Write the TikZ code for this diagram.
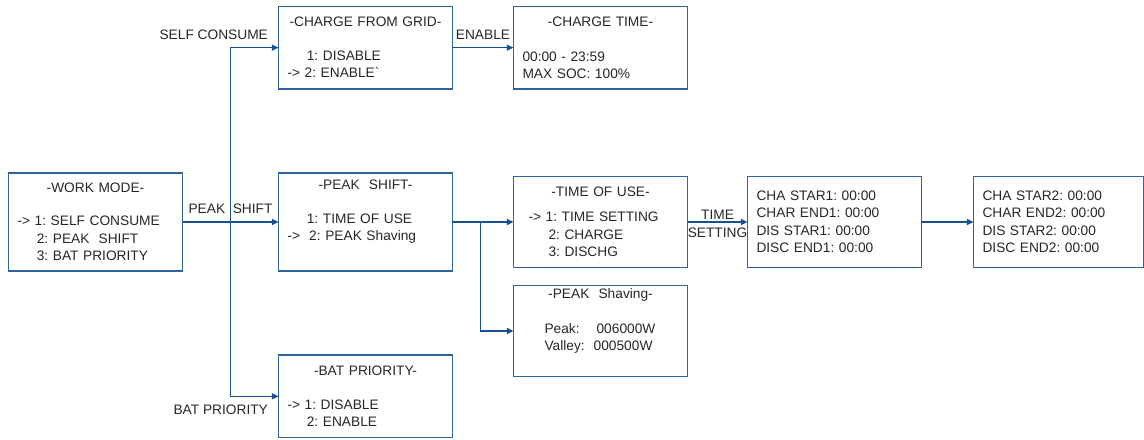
\documentclass[tikz,border=0pt]{standalone}
\usepackage{fontspec}
\setmainfont{Liberation Sans}
\usepackage{xcolor}
\definecolor{boxblue}{RGB}{46,101,160}
\definecolor{lineblue}{RGB}{24,80,150}
\definecolor{txtgray}{RGB}{38,38,38}
\usepackage{tikz}
\usetikzlibrary{arrows.meta, positioning, calc}

\newcommand{\ind}{\hspace*{14.5pt}}
\frenchspacing

\begin{document}
\begin{tikzpicture}[
      x=0.75pt, y=0.75pt,
      menubox/.style = {
        rectangle, draw=boxblue, line width=1.1pt, outer sep=0pt,
        minimum width=130.5pt, text width=117pt,
        inner xsep=6.75pt, inner ysep=0pt,
        align=left, text=txtgray,
        font=\fontsize{10.3pt}{13.1pt}\selectfont\frenchspacing
      },
      bigbox/.style   = {menubox, minimum height=73.5pt},
      smallbox/.style = {menubox, minimum height=62pt},
      midbox/.style   = {menubox, minimum height=68.25pt},
      arr/.style  = {-{Triangle[length=5pt,width=4.5pt]}, line width=1.1pt, draw=lineblue},
      lbl/.style  = {font=\fontsize{10.3pt}{13.1pt}\selectfont, text=txtgray, inner sep=1pt}
    ]

      \useasboundingbox (0,0) rectangle (1144,-439);

      % ===================== Work mode column =====================
      \node[bigbox] (wm) at (95.5,-222) {\makebox[\linewidth]{-WORK MODE-}\\[12pt]
        -> 1: SELF CONSUME\\
        \ind 2: PEAK\ \ SHIFT\\
        \ind 3: BAT PRIORITY};

      % ===================== Mode menus =====================
      \node[bigbox, right=72pt of wm] (ps) {\makebox[\linewidth]{-PEAK\ \ SHIFT-}\\[12pt]
        \ind 1: TIME OF USE\\
        ->\ \ 2: PEAK Shaving\\ \strut};
      \node[smallbox, above=63pt of ps] (cg) {\makebox[\linewidth]{-CHARGE FROM GRID-}\\[12pt]
        \ind 1: DISABLE\\
        -> 2: ENABLE\textasciigrave};
      \node[smallbox, below=63pt of ps] (bp) {\makebox[\linewidth]{-BAT PRIORITY-}\\[12pt]
        -> 1: DISABLE\\
        \ind 2: ENABLE};

      % ===================== Sub menus =====================
      \node[smallbox, right=45.75pt of cg] (ct) {\makebox[\linewidth]{-CHARGE TIME-}\\[13pt]
        00:00 - 23:59\\
        MAX SOC: 100\%};
      \node[midbox, right=45.75pt of ps] (tou) {\makebox[\linewidth]{-TIME OF USE-}\\[5.5pt]
        \hspace*{4.5pt}-> 1: TIME SETTING\\
        \hspace*{19.5pt}2: CHARGE\\
        \hspace*{19.5pt}3: DISCHG};
      \node[midbox, below=13.5pt of tou] (psv) {\makebox[\linewidth]{-PEAK\ \ Shaving-}\\[13pt]
        \hspace*{16.5pt}Peak:\hspace{12.75pt}006000W\\
        \hspace*{16.5pt}Valley:\hspace{6.75pt}000500W\\ \strut};

      % ===================== Time settings =====================
      \node[midbox, right=45pt of tou] (t1) {CHA STAR1: 00:00\\
        CHAR END1: 00:00\\
        DIS STAR1: 00:00\\
        DISC END1: 00:00};
      \node[midbox, right=39pt of t1, minimum width=127.5pt, text width=114pt] (t2) {CHA STAR2: 00:00\\
        CHAR END2: 00:00\\
        DIS STAR2: 00:00\\
        DISC END2: 00:00};

      % ===================== Work mode branches =====================
      \draw[arr] (wm.east) -- node[lbl, above=5pt] {PEAK\ \ SHIFT} (ps.west);
      \coordinate (split) at ($(wm.east)!0.5!(ps.west)$);
      \draw[arr] (split) |- (cg.west);
      \draw[arr] (split) |- (bp.west);
      \node[lbl, anchor=east] at ($(cg.west)+(-9,13)$) {SELF CONSUME};
      \node[lbl, anchor=east] at ($(bp.west)+(-9,-13)$) {BAT PRIORITY};

      % Charge from grid
      \draw[arr] (cg.east) -- node[lbl, above=4.5pt] {ENABLE} (ct.west);

      % Peak shift branches
      \draw[arr] (ps.east) -- (tou.west);
      \coordinate (fork) at ($(ps.east)+(28,0)$);
      \draw[arr] (fork) |- (psv.west);

      % Time setting chain
      \draw[arr] (tou.east) -- node[lbl, align=center, yshift=-1.5pt] {TIME\\SETTING} (t1.west);
      \draw[arr] (t1.east) -- (t2.west);

    \end{tikzpicture}
\end{document}
